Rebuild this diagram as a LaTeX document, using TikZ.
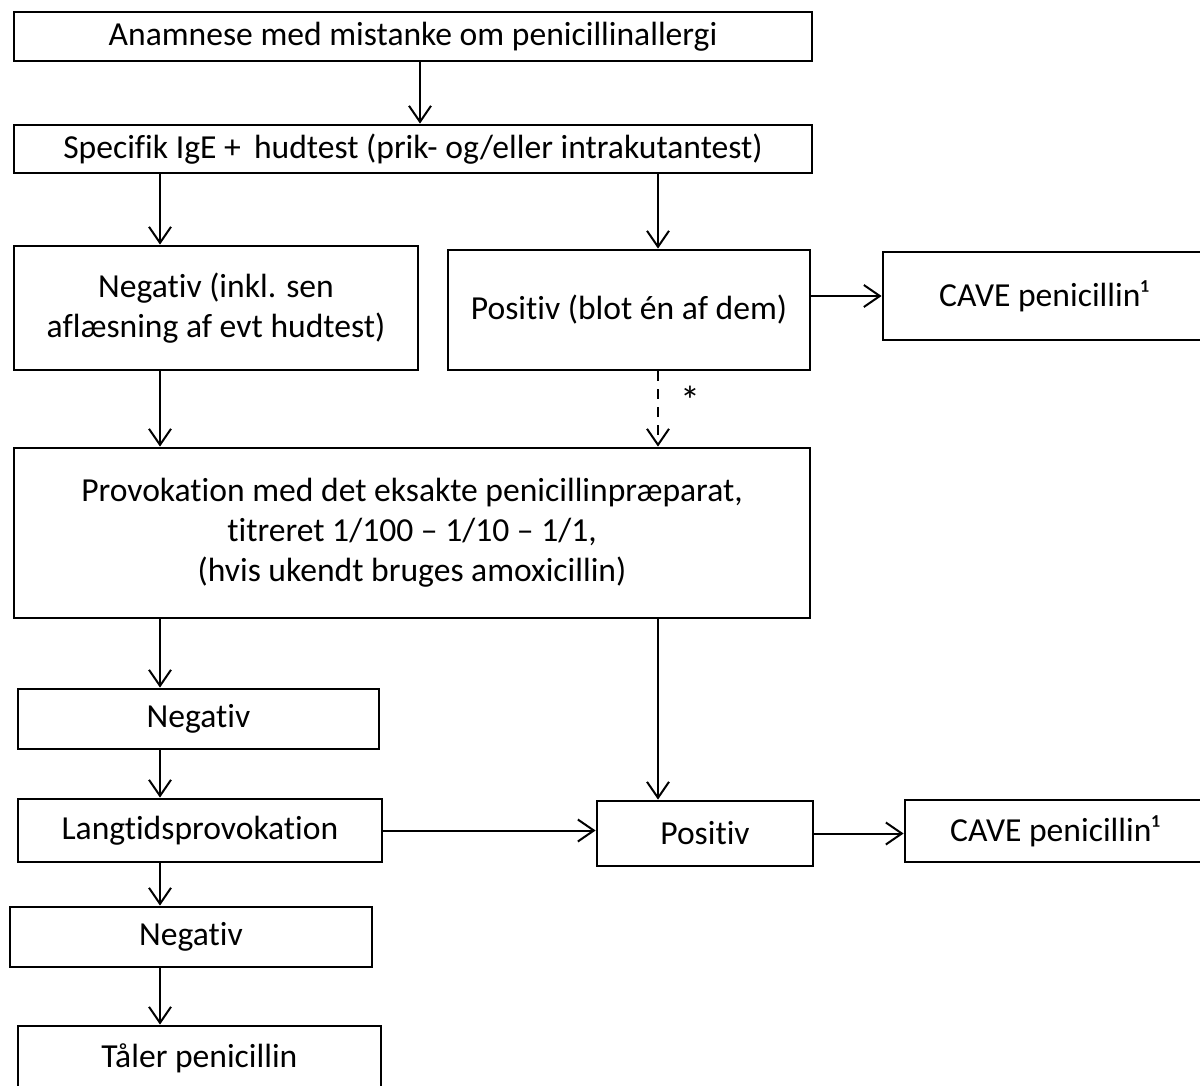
\documentclass[tikz,border=0pt]{standalone}
\usepackage{fontspec}
\setmainfont{Carlito}[Ligatures=NoCommon]
\usetikzlibrary{arrows.meta}

\begin{document}
\begin{tikzpicture}[x=0.5pt, y=-0.5pt,
  box/.style = {draw, line width=1.4pt, align=center, inner sep=0pt, font=\fontsize{16.8}{20}\selectfont},
  arr/.style = {-{Straight Barb[length=8pt, width=11pt]}, line width=1pt},
  darr/.style = {arr, dash pattern=on 5pt off 4pt}]
\useasboundingbox (0,0) rectangle (1200,1086);
\node[box, minimum width=399pt, minimum height=24.5pt](anam) at (413,36.5){Anamnese med mistanke om penicillinallergi};
\node[box, minimum width=399pt, minimum height=24pt](spec) at (413,149){Specifik IgE + \,hudtest (prik- og/eller intrakutantest)};
\node[box, minimum width=202pt, minimum height=62pt](neg1) at (216,308){Negativ (inkl. sen\\aflæsning af evt hudtest)};
\node[box, minimum width=181pt, minimum height=60pt](pos1) at (629,310){Positiv (blot én af dem)};
\node[box, minimum width=161pt, minimum height=44pt](cave1) at (1044,296){CAVE penicillin¹};
\node[box, minimum width=398pt, minimum height=85pt](prov) at (412,533){Provokation med det eksakte penicillinpræparat,\\titreret 1/100 -- 1/10 -- 1/1,\\(hvis ukendt bruges amoxicillin)};
\node[box, minimum width=180.5pt, minimum height=30pt](neg2) at (198.5,719){Negativ};
\node[box, minimum width=182pt, minimum height=31.5pt](lang) at (200,830.5){Langtidsprovokation};
\node[box, minimum width=181pt, minimum height=30pt](neg3) at (191,937){Negativ};
\node[box, minimum width=181.5pt, minimum height=32pt](taler) at (199.5,1058){Tåler penicillin};
\node[box, minimum width=108pt, minimum height=32.5pt](pos2) at (705,833.5){Positiv};
\node[box, minimum width=150pt, minimum height=31pt](cave2) at (1055,831){CAVE penicillin¹};
\node[font=\fontsize{20}{22}\selectfont](star) at (690,400){*};
\coordinate (mx) at (420,0);
\coordinate (lx) at (160,0);
\coordinate (rx) at (658,0);
\draw[arr] (anam.south -| mx) -- (spec.north -| mx);
\draw[arr] (spec.south -| lx) -- (neg1.north -| lx);
\draw[arr] (spec.south -| rx) -- (pos1.north -| rx);
\draw[arr] (pos1.east |- cave1.west) -- (cave1.west);
\draw[arr] (neg1.south -| lx) -- (prov.north -| lx);
\draw[darr] (pos1.south -| rx) -- (prov.north -| rx);
\draw[arr] (prov.south -| lx) -- (neg2.north -| lx);
\draw[arr] (prov.south -| rx) -- (pos2.north -| rx);
\draw[arr] (neg2.south -| lx) -- (lang.north -| lx);
\draw[arr] (lang.east) -- (lang.east -| pos2.west);
\draw[arr] (pos2.east) -- (pos2.east -| cave2.west);
\draw[arr] (lang.south -| lx) -- (neg3.north -| lx);
\draw[arr] (neg3.south -| lx) -- (taler.north -| lx);
\end{tikzpicture}
\end{document}
